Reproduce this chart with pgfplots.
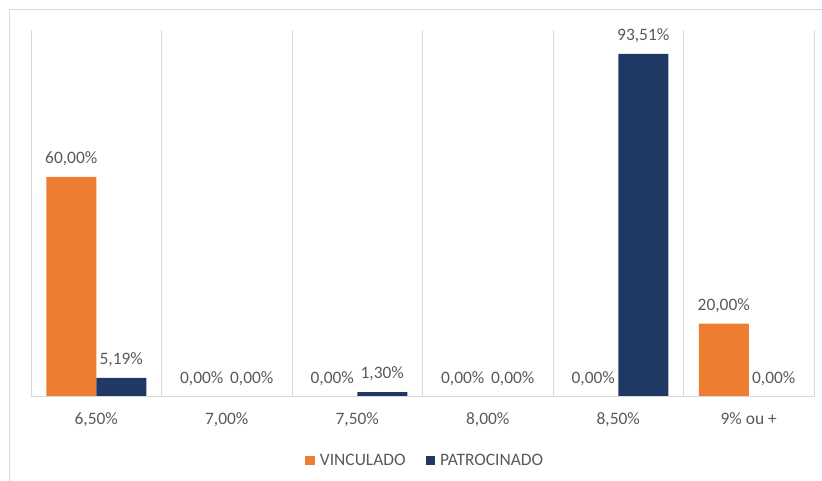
\documentclass[border=0pt]{standalone}
\usepackage{pgfplots}
\pgfplotsset{compat=1.18}
\usepackage{pgfplotstable}
\usepackage{fontspec}
\setmainfont{Carlito}
\definecolor{vorange}{HTML}{ED7D31}
\definecolor{pnavy}{HTML}{1F3864}
\definecolor{txt}{HTML}{595959}
\definecolor{grd}{HTML}{D9D9D9}

\pgfplotstableread{
x v vl p pl
0 60 60,00\% 5.19 5,19\%
1 0 0,00\% 0 0,00\%
2 0 0,00\% 1.30 1,30\%
3 0 0,00\% 0 0,00\%
4 0 0,00\% 93.51 93,51\%
5 20 20,00\% 0 0,00\%
}\data

\begin{document}
\begin{tikzpicture}[x=1bp,y=1bp]
\useasboundingbox (0,0) rectangle (822,481);
\draw[grd, line width=1.5bp] (9.5,-5) -- (9.5,471.5) -- (830,471.5);
\begin{axis}[
  at={(31bp,84bp)}, anchor=south west,
  scale only axis, width=783bp, height=367bp,
  xmin=-0.5, xmax=5.5, ymin=0, ymax=100,
  axis line style={draw=none},
  ytick=\empty,
  xtick={0,1,2,3,4,5},
  xticklabels={{6,50\%},{7,00\%},{7,50\%},{8,00\%},{8,50\%},{9\% ou +}},
  major tick length=0pt,
  minor xtick={-0.5,0.5,1.5,2.5,3.5,4.5,5.5},
  minor tick length=0pt,
  xminorgrids,
  minor grid style={grd, line width=1bp},
  tick label style={font=\fontsize{17.5}{21}\selectfont, text=txt},
  xticklabel style={anchor=base, inner sep=0pt, yshift=-28bp},
  ybar=0pt, bar width=50bp,
  nodes near coords,
  point meta=explicit symbolic,
  every node near coord/.append style={font=\fontsize{17.5}{21}\selectfont, text=txt, anchor=base, inner sep=0pt, yshift=13.5bp},
  legend columns=2,
  legend style={at={(0.5036,-0.172)}, anchor=center, draw=none, fill=none,
    font=\fontsize{17.5}{21}\selectfont, text=txt,
    /tikz/every odd column/.append style={column sep=3bp},
    /tikz/every even column/.append style={column sep=18bp}},
  legend image code/.code={\fill[#1] (0bp,-4.5bp) rectangle (9.5bp,4.5bp);},
  clip=false,
]
\addplot[fill=vorange, draw=none] table[x=x, y=v, meta=vl] {\data};
\addplot[fill=pnavy, draw=none] table[x=x, y=p, meta=pl] {\data};
\draw[grd, line width=1bp] (axis cs:-0.5,0) -- (axis cs:5.5,0);
\legend{VINCULADO, PATROCINADO}
\end{axis}
\end{tikzpicture}
\end{document}
